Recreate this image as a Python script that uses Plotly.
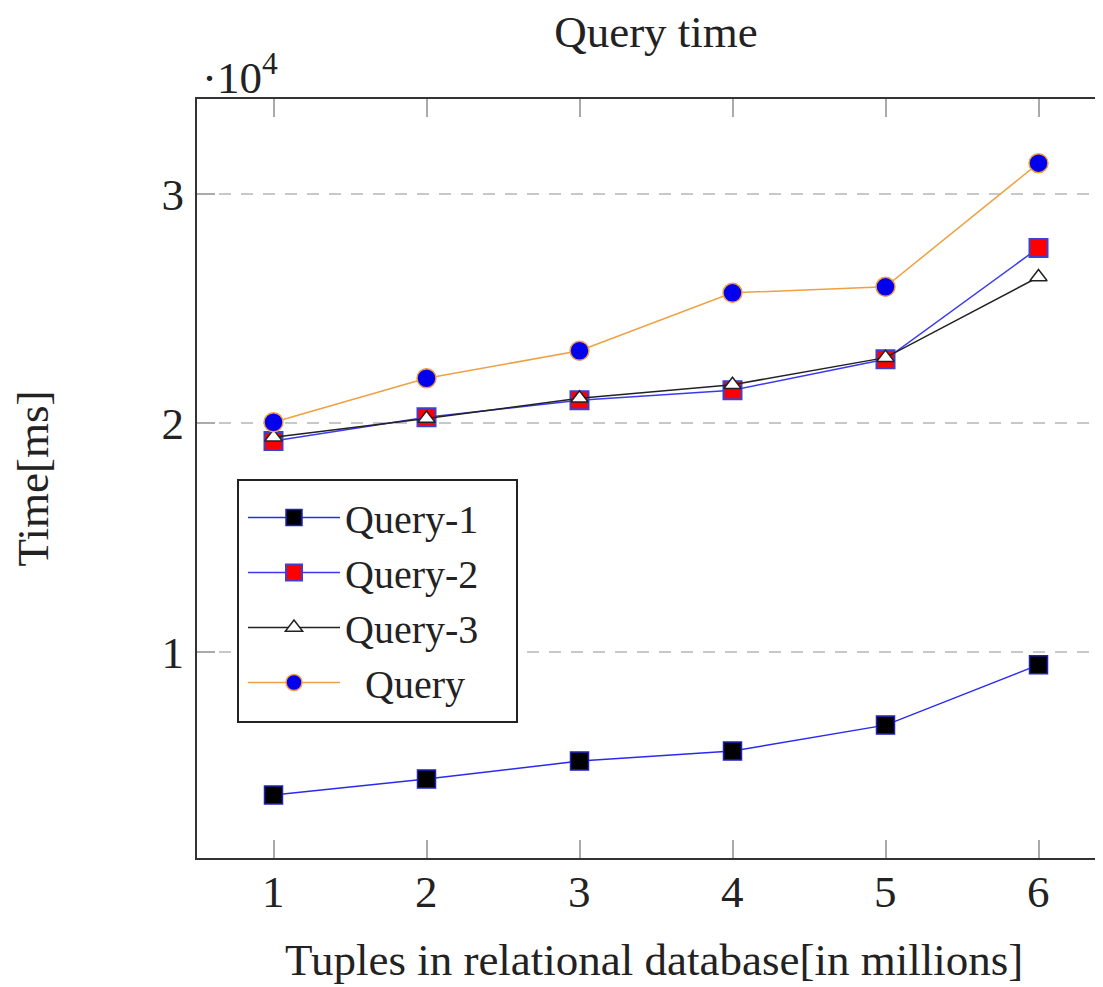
import plotly.graph_objects as go

x_vals = [1, 2, 3, 4, 5, 6]
x_tick_text = ["1", "2", "3", "4", "5", "6"]
query1 = [3770, 4470, 5250, 5690, 6820, 9450]
query2 = [19220, 20260, 21000, 21440, 22790, 27650]
query3 = [19390, 20200, 21090, 21680, 22860, 26380]
query = [20040, 21960, 23160, 25690, 25950, 31350]

y_tick_vals = [10000, 20000, 30000]
y_tick_text = ["1", "2", "3"]

FONT = "Liberation Serif"
FS = 45
OFF = 8  # page offset of the plot inside the browser window

L, T = 197 - OFF, 99 - OFF
H = 987
BOTTOM = 858 - OFF
B = H - BOTTOM
PW = 1103 - L
PH = BOTTOM - T


def px_to_paper_y(screen_y):
    return (BOTTOM - (screen_y - OFF)) / PH


def px_to_paper_x(screen_x):
    return ((screen_x - OFF) - L) / PW


fig = go.Figure()
fig.add_trace(go.Scatter(
    x=x_vals, y=query1, name="Query-1", mode="lines+markers",
    line=dict(color="#2a2af0", width=1.5),
    marker=dict(symbol="square", size=18, color="black", line=dict(color="#2020c0", width=1.5)),
))
fig.add_trace(go.Scatter(
    x=x_vals, y=query2, name="Query-2", mode="lines+markers",
    line=dict(color="#3a3af2", width=1.5),
    marker=dict(symbol="square", size=18, color="#ff0000", line=dict(color="#4040d0", width=2)),
))
fig.add_trace(go.Scatter(
    x=x_vals, y=query3, name="Query-3", mode="lines+markers",
    line=dict(color="#222222", width=1.5),
    marker=dict(symbol="triangle-up", size=15, color="white", line=dict(color="#222222", width=1.5)),
))
fig.add_trace(go.Scatter(
    x=x_vals, y=query, name="\u00a0\u00a0Query", mode="lines+markers",
    line=dict(color="#f0a040", width=1.5),
    marker=dict(symbol="circle", size=19, color="#0000ee", line=dict(color="#f0a040", width=1.5)),
))

fig.update_layout(
    width=1103, height=H,
    margin=dict(l=L, r=0, t=T, b=B),
    paper_bgcolor="white", plot_bgcolor="white",
    font=dict(family=FONT, size=FS, color="#222222"),
    title=dict(text="Query time", x=(L + (1115 - OFF)) / 2 / 1103, xanchor="center",
               y=1 - (31 - OFF) / H, yanchor="middle", yref="container",
               font=dict(family=FONT, size=FS, color="#222222")),
    showlegend=True,
    legend=dict(x=px_to_paper_x(243), xanchor="left", y=px_to_paper_y(485), yanchor="top",
                bgcolor="rgba(0,0,0,0)", borderwidth=0,
                font=dict(family=FONT, size=40), itemwidth=92, tracegroupgap=0),
    xaxis=dict(
        range=[0.5, 0.5 + PW / 153], tickvals=x_vals, showticklabels=False,
        showline=True, linecolor="#333333", linewidth=2, mirror="ticks",
        ticks="inside", ticklen=18, tickcolor="#aaaaaa", tickwidth=1.5,
        showgrid=False, zeroline=False,
    ),
    yaxis=dict(
        range=[1020, 34150], tickvals=y_tick_vals, ticktext=y_tick_text,
        showline=True, linecolor="#333333", linewidth=2, mirror=False,
        ticks="inside", ticklen=18, tickcolor="#aaaaaa", tickwidth=1.5,
        showgrid=True, gridcolor="#c8c8c8", griddash="12px,10px", gridwidth=2,
        zeroline=False, ticklabelstandoff=2,
        title=dict(text="Time[ms]", standoff=110, font=dict(family=FONT, size=FS)),
        tickfont=dict(family=FONT, size=FS),
    ),
)

# legend frame (white box with black border, behind the legend entries)
fig.add_shape(
    type="rect", xref="paper", yref="paper", layer="above",
    x0=px_to_paper_x(238), x1=px_to_paper_x(517),
    y0=px_to_paper_y(722), y1=px_to_paper_y(480),
    line=dict(color="#222222", width=2), fillcolor="white",
)

# x tick labels placed on the x scale
for xv, lab in zip(x_vals, x_tick_text):
    fig.add_annotation(
        text=lab, xref="x", yref="paper", x=xv, y=px_to_paper_y(892),
        xanchor="center", yanchor="middle", showarrow=False,
        font=dict(family=FONT, size=FS, color="#222222"),
    )

# x axis title
fig.add_annotation(
    text="Tuples in relational database[in millions]", xref="paper", yref="paper",
    x=((656 - OFF) - L) / (1115 - 197), y=px_to_paper_y(960),
    xanchor="center", yanchor="middle", showarrow=False,
    font=dict(family=FONT, size=FS, color="#222222"),
)

fig.add_annotation(
    text="·10<sup>4</sup>", xref="paper", yref="paper",
    x=px_to_paper_x(200), xanchor="left", y=px_to_paper_y(75), yanchor="middle",
    showarrow=False, font=dict(family=FONT, size=FS, color="#222222"),
)

fig.write_html("out.html")
